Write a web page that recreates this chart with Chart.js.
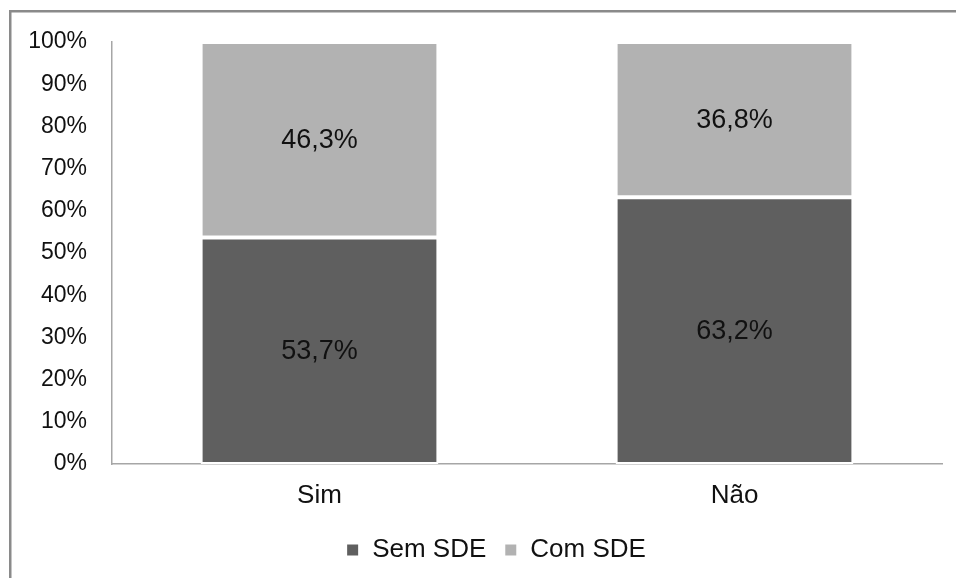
<!DOCTYPE html>
<html>
<head>
<meta charset="utf-8">
<script src="https://cdn.jsdelivr.net/npm/chart.js@4/dist/chart.umd.min.js"></script>
<style>
  html, body { margin: 0; padding: 0; background: #ffffff; }
  #wrap { position: relative; width: 956px; height: 578px; }
</style>
</head>
<body>
<div id="wrap"><canvas id="chart" width="956" height="578"></canvas></div>
<script>
// Share of cases with and without SDE, by group
const categories = ['Sim', 'Não'];
const semSDE = [53.7, 63.2];
const comSDE = [46.3, 36.8];
const seriesNames = ['Sem SDE', 'Com SDE'];
const yTicks = [0, 10, 20, 30, 40, 50, 60, 70, 80, 90, 100];

const FONT = '"Liberation Sans", Arial, sans-serif';

// Frame drawn along the top and left edges of the canvas
const framePlugin = {
  id: 'frame',
  beforeDraw(chart) {
    const ctx = chart.ctx;
    ctx.save();
    ctx.fillStyle = '#ffffff';
    ctx.fillRect(0, 0, chart.width, chart.height);
    ctx.fillStyle = '#8a8a8a';
    ctx.fillRect(9, 10, chart.width - 9, 2.5);
    ctx.fillRect(9, 10, 2.5, chart.height - 10);
    ctx.restore();
  }
};

// Legend is centred within the framed area rather than the whole canvas
const legendOffset = {
  id: 'legendOffset',
  afterLayout(chart) {
    if (chart.legend) {
      chart.legend.left = 50;
    }
  }
};

// Percentage written in the middle of each bar segment
const valueLabels = {
  id: 'valueLabels',
  afterDatasetsDraw(chart) {
    const ctx = chart.ctx;
    ctx.save();
    ctx.font = '27px ' + FONT;
    ctx.fillStyle = '#111111';
    ctx.textAlign = 'center';
    ctx.textBaseline = 'middle';
    chart.data.datasets.forEach((ds, di) => {
      const meta = chart.getDatasetMeta(di);
      meta.data.forEach((bar, i) => {
        const p = bar.getCenterPoint();
        const txt = ds.data[i].toFixed(1).replace('.', ',') + '%';
        ctx.fillText(txt, p.x, p.y + 1);
      });
    });
    ctx.restore();
  }
};

new Chart(document.getElementById('chart'), {
  type: 'bar',
  data: {
    labels: categories,
    datasets: [
      {
        label: seriesNames[0],
        data: semSDE,
        backgroundColor: '#5f5f5f',
        borderColor: '#ffffff',
        borderWidth: 2,
        borderSkipped: false,
        barPercentage: 0.573,
        categoryPercentage: 1
      },
      {
        label: seriesNames[1],
        data: comSDE,
        backgroundColor: '#b2b2b2',
        borderColor: '#ffffff',
        borderWidth: 2,
        borderSkipped: false,
        barPercentage: 0.573,
        categoryPercentage: 1
      }
    ]
  },
  options: {
    responsive: false,
    animation: false,
    devicePixelRatio: 1,
    layout: { padding: { left: 0, right: 14, top: 42, bottom: 5 } },
    plugins: {
      tooltip: { enabled: false },
      legend: {
        position: 'bottom',
        labels: {
          font: { family: FONT, size: 26 },
          color: '#111111',
          boxWidth: 13,
          boxHeight: 13,
          padding: 18
        }
      }
    },
    scales: {
      x: {
        stacked: true,
        grid: { display: false, drawTicks: false },
        border: { display: true, color: '#a6a6a6', width: 1.5 },
        ticks: {
          font: { family: FONT, size: 26 },
          color: '#111111',
          padding: 16
        },
        afterFit(scale) { scale.height = 55; }
      },
      y: {
        stacked: true,
        min: 0,
        max: 100,
        afterBuildTicks(scale) {
          scale.ticks = yTicks.map(v => ({ value: v }));
        },
        grid: { display: false, drawTicks: false },
        border: { display: true, color: '#a6a6a6', width: 1.5 },
        ticks: {
          font: { family: FONT, size: 23 },
          color: '#111111',
          padding: 25,
          callback: v => v + '%'
        },
        afterFit(scale) { scale.width = 112; }
      }
    }
  },
  plugins: [framePlugin, legendOffset, valueLabels]
});
</script>
</body>
</html>
